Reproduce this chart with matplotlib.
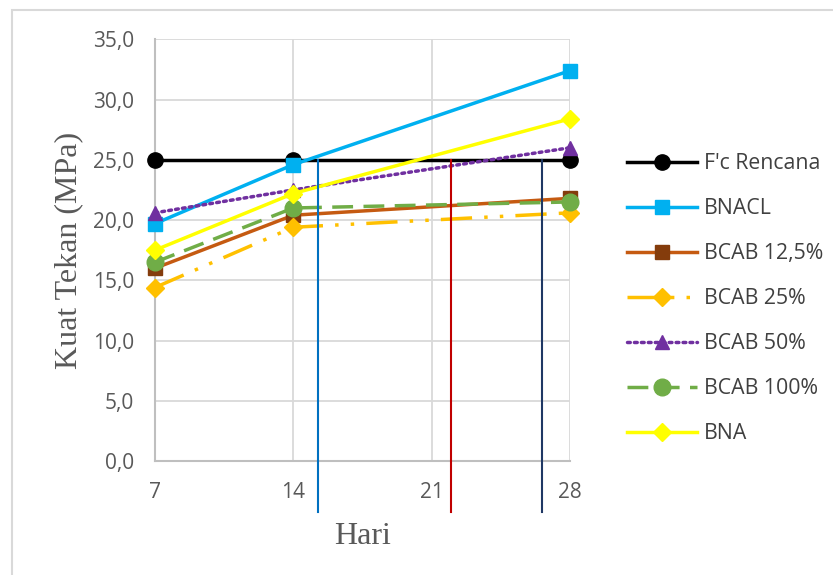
import numpy as np
import matplotlib.pyplot as plt
from matplotlib.patches import Rectangle

# umur benda uji (hari) dan kuat tekan rata-rata (MPa)
hari = [7, 14, 28]
fc_rencana = [25.0, 25.0, 25.0]
bnacl = [19.7, 24.6, 32.4]
bcab_125 = [16.0, 20.4, 21.8]
bcab_25 = [14.4, 19.4, 20.6]
bcab_50 = [20.6, 22.5, 26.0]
bcab_100 = [16.5, 21.0, 21.5]
bna = [17.5, 22.2, 28.4]

x_ticks = [7, 14, 21, 28]
y_ticks = [0, 5, 10, 15, 20, 25, 30, 35]

# garis bantu vertikal: posisi x (hari) dan warna
garis_x = [15.25, 22.0, 26.6]
garis_warna = ['#0070C0', '#C00000', '#1F3864']

fig = plt.figure(figsize=(8.33, 5.75), dpi=100)
fig.patches.append(Rectangle((12 / 833, -0.1), 1.2, 1 - 10 / 575 + 0.1,
                             transform=fig.transFigure, fill=False,
                             edgecolor='#D9D9D9', linewidth=1.5))

ax = fig.add_axes([155 / 833, 1 - 461 / 575, 415 / 833, (461 - 39.3) / 575])

lw = 2.5
series = [
    ("F'c Rencana", fc_rencana, dict(color='black', marker='o', ms=11, mfc='black', mec='black', ls='-')),
    ('BNACL', bnacl, dict(color='#00B0F0', marker='s', ms=10, mfc='#00B0F0', mec='#00B0F0', ls='-')),
    ('BCAB 12,5%', bcab_125, dict(color='#C55A11', marker='s', ms=10, mfc='#843C0C', mec='#843C0C', ls='-')),
    ('BCAB 25%', bcab_25, dict(color='#FFC000', marker='D', ms=9, mfc='#FFC000', mec='#FFC000',
                               ls=(0, (9, 3.5, 1, 3.5, 1, 3.5)))),
    ('BCAB 50%', bcab_50, dict(color='#7030A0', marker='^', ms=10, mfc='#7030A0', mec='#7030A0',
                               ls=(0, (0.8, 1.2)), dash_capstyle='round')),
    ('BCAB 100%', bcab_100, dict(color='#70AD47', marker='o', ms=12, mfc='#70AD47', mec='#70AD47',
                                 ls=(0, (6, 3)))),
    ('BNA', bna, dict(color='#FFFF00', marker='D', ms=9, mfc='#FFFF00', mec='#FFFF00', ls='-')),
]

for label, y, style in series:
    ax.plot(hari, y, lw=lw, label=label, clip_on=False, zorder=3, **style)

for gx, gc in zip(garis_x, garis_warna):
    ax.plot([gx, gx], [25, -4.2], color=gc, lw=1.5, clip_on=False, zorder=5)

ax.set_xlim(7, 28)
ax.set_ylim(0, 35)
ax.set_xticks(x_ticks)
ax.set_yticks(y_ticks)
ax.set_yticklabels([f'{v:.1f}'.replace('.', ',') for v in y_ticks])
ax.grid(True, color='#D9D9D9', lw=1.3, zorder=0)
ax.set_axisbelow(True)
for side in ['top', 'right']:
    ax.spines[side].set_visible(False)
for side in ['left', 'bottom']:
    ax.spines[side].set_color('#BFBFBF')
    ax.spines[side].set_linewidth(1.5)
ax.tick_params(length=0, labelsize=15, colors='#595959')
ax.tick_params(axis='y', pad=15)
ax.tick_params(axis='x', pad=15)
for t in ax.get_xticklabels() + ax.get_yticklabels():
    t.set_family('Open Sans')

ax.set_ylabel('Kuat Tekan (MPa)', family='Liberation Serif', fontsize=23, color='#595959', labelpad=7)
ax.set_xlabel('Hari', family='Liberation Serif', fontsize=23, color='#595959', labelpad=14)

leg = fig.legend(loc='upper left', bbox_to_anchor=(608 / 833, 1 - 134 / 575), frameon=False,
                 handlelength=3.3, labelspacing=1.13, handletextpad=0.33,
                 prop={'family': 'Open Sans', 'size': 15.3})
for t in leg.get_texts():
    t.set_color('#404040')

fig.savefig('out.png', dpi=100)
